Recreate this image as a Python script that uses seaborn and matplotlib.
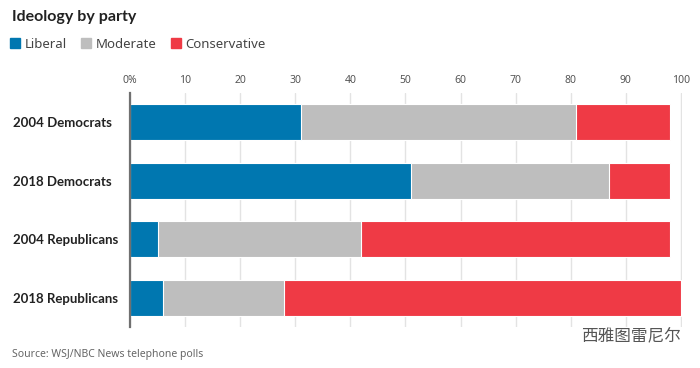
import seaborn as sns
import matplotlib.pyplot as plt
from matplotlib.patches import Patch

# Data (percent)
groups = ["2004 Democrats", "2018 Democrats", "2004 Republicans", "2018 Republicans"]
liberal = [31, 51, 5, 6]
moderate = [50, 36, 37, 22]
conservative = [17, 11, 56, 72]
ticks = [0, 10, 20, 30, 40, 50, 60, 70, 80, 90, 100]
tick_labels = ["0%", "10", "20", "30", "40", "50", "60", "70", "80", "90", "100"]

colors = {"Liberal": "#0077b0", "Moderate": "#bebebe", "Conservative": "#ef3a45"}

sns.set_theme(style="white")
plt.rcParams["font.family"] = ["Noto Sans", "Noto Sans CJK SC", "DejaVu Sans"]
bold_font = ["Lato", "DejaVu Sans"]

fig = plt.figure(figsize=(7, 3.68), dpi=100)
ax = fig.add_axes([130 / 700, 1 - 327 / 368, 552 / 700, 234 / 368])

# cumulative totals so the bars stack when drawn back to front
mod_end = [l + m for l, m in zip(liberal, moderate)]
con_end = [e + c for e, c in zip(mod_end, conservative)]

for vals, name in [(con_end, "Conservative"), (mod_end, "Moderate"), (liberal, "Liberal")]:
    sns.barplot(x=vals, y=groups, orient="h", color=colors[name], saturation=1,
                width=0.61, edgecolor="white", linewidth=0.8, ax=ax, zorder=3)

ax.set_xlim(0, 100.2)
ax.set_ylim(3.5, -0.5)
ax.set_xlabel("")
ax.set_ylabel("")

ax.xaxis.tick_top()
ax.set_xticks(ticks)
ax.set_xticklabels(tick_labels, fontsize=7.5, color="#555555")
ax.tick_params(axis="x", length=0, pad=5)
ax.grid(axis="x", color="#e3e3e3", linewidth=1, zorder=0)
ax.set_axisbelow(True)

ax.tick_params(axis="y", length=0, pad=84)
for lab in ax.get_yticklabels():
    lab.set_ha("left")
    lab.set_family(bold_font)
    lab.set_fontweight("bold")
    lab.set_fontsize(9.5)
    lab.set_color("#222222")

for s in ["top", "right", "bottom"]:
    ax.spines[s].set_visible(False)
ax.spines["left"].set_color("#707070")
ax.spines["left"].set_linewidth(1.6)
ax.spines["left"].set_zorder(5)

fig.text(12 / 700, 1 - 17 / 368, "Ideology by party", fontsize=11.5, fontweight="bold",
         color="#222222", va="center", ha="left", family=bold_font)

handles = [Patch(color=colors[n], label=n) for n in ["Liberal", "Moderate", "Conservative"]]
fig.legend(handles=handles, loc="center left", bbox_to_anchor=(10 / 700, 1 - 44 / 368),
           ncol=3, frameon=False, fontsize=9.5, handlelength=0.75, handleheight=0.75,
           handletextpad=0.35, columnspacing=1.1, borderpad=0, borderaxespad=0,
           labelcolor="#444444")

fig.text(12 / 700, 1 - 355 / 368, "Source: WSJ/NBC News telephone polls", fontsize=7.5,
         color="#666666", va="center", ha="left")
fig.text(681 / 700, 1 - 337 / 368, "西雅图雷尼尔", fontsize=12, color="#555555",
         va="center", ha="right", family=["Noto Sans CJK SC", "DejaVu Sans"])

fig.savefig("out.png", dpi=100)
